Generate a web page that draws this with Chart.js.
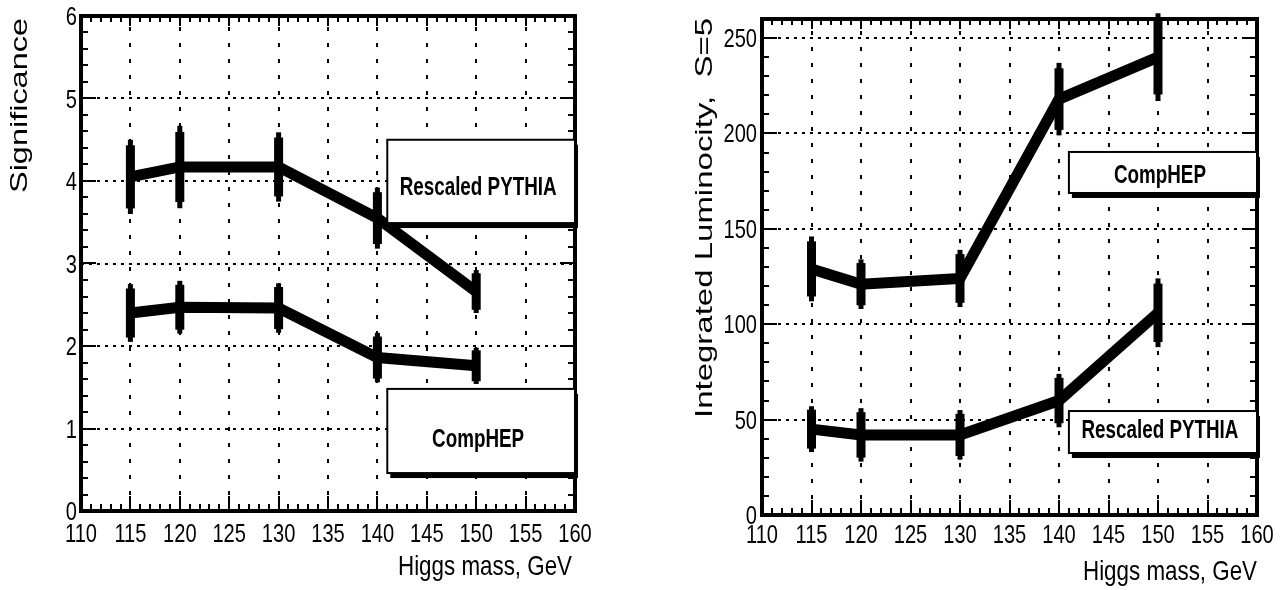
<!DOCTYPE html>
<html>
<head>
<meta charset="utf-8">
<script src="https://cdn.jsdelivr.net/npm/chart.js@4.4.1/dist/chart.umd.min.js"></script>
<style>
  html, body { margin: 0; padding: 0; background: #fff; }
  #wrap { position: relative; width: 1282px; height: 590px; }
  .panel { position: absolute; top: 0; width: 641px; height: 590px; }
</style>
</head>
<body>
<div id="wrap">
  <div class="panel" style="left:0"><canvas id="sig"></canvas></div>
  <div class="panel" style="left:641px"><canvas id="lumi"></canvas></div>
</div>
<script>
// Higgs masses (GeV)
const masses = [115, 120, 130, 140, 150];

// left panel: significance
const sigPythia = [4.05, 4.17, 4.17, 3.55, 2.66];
const sigPythiaErr = [0.45, 0.5, 0.42, 0.37, 0.26];
const sigCompHEP = [2.4, 2.47, 2.46, 1.86, 1.76];
const sigCompHEPErr = [0.35, 0.32, 0.3, 0.3, 0.22];

// right panel: integrated luminosity for S=5
const lumCompHEP = [129, 121, 124, 218, 240];
const lumCompHEPErr = [17, 13, 15, 19, 23];
const lumPythia = [45, 42, 42, 60, 106];
const lumPythiaErr = [12, 14, 13, 14, 18];

const SANS = '"Liberation Sans", Arial, sans-serif';

function pts(ys) {
  return masses.map((m, i) => ({ x: m, y: ys[i] }));
}

// the original uses a condensed Helvetica; squeeze Liberation Sans horizontally
function narrowText(ctx, text, x, y, font, align, squeeze) {
  ctx.save();
  ctx.translate(x, y);
  ctx.scale(squeeze, 1);
  ctx.font = font;
  ctx.textAlign = align;
  ctx.textBaseline = 'alphabetic';
  ctx.fillText(text, 0, 0);
  ctx.restore();
}

function squeezeFor(ctx, font, sample, width) {
  ctx.save();
  ctx.font = font;
  const w = ctx.measureText(sample).width;
  ctx.restore();
  return width / w;
}

function makeChart(canvasId, spec) {
  const decor = {
    id: 'decor',
    beforeDatasetsDraw(chart) {
      const { ctx, chartArea: a, scales: { x, y } } = chart;
      ctx.save();
      ctx.strokeStyle = '#000';
      ctx.lineWidth = 2;
      // dotted grid
      ctx.setLineDash([4, 12]);
      for (let v = spec.xMin + spec.xMajor; v < spec.xMax - 1e-9; v += spec.xMajor) {
        const px = Math.round(x.getPixelForValue(v));
        ctx.beginPath(); ctx.moveTo(px, a.bottom); ctx.lineTo(px, a.top); ctx.stroke();
      }
      ctx.setLineDash([3, 5]);
      for (let v = spec.yMajor; v < spec.yMax - 1e-9; v += spec.yMajor) {
        const py = Math.round(y.getPixelForValue(v));
        ctx.beginPath(); ctx.moveTo(a.left, py); ctx.lineTo(a.right, py); ctx.stroke();
      }
      ctx.restore();
    },
    afterDatasetsDraw(chart) {
      const { ctx, chartArea: a, scales: { x, y } } = chart;
      ctx.save();
      ctx.fillStyle = '#000';
      ctx.strokeStyle = '#000';

      // error bars: thin outer part, thick inner part
      chart.data.datasets.forEach(ds => {
        ds.errors.forEach((e, i) => {
          const p = ds.data[i];
          const px = x.getPixelForValue(p.x);
          const yt = y.getPixelForValue(p.y + e), yb = y.getPixelForValue(p.y - e);
          ctx.fillRect(px - 2.5, yt, 5, yb - yt);
          const kt = y.getPixelForValue(p.y + e * 0.85), kb = y.getPixelForValue(p.y - e * 0.85);
          ctx.fillRect(px - 4.5, kt, 9, kb - kt);
        });
      });

      // ticks
      ctx.lineWidth = 2;
      const isMajor = (v, step) => Math.abs(v / step - Math.round(v / step)) < 1e-6;
      for (let v = spec.xMin; v <= spec.xMax + 1e-9; v += spec.xMinor) {
        const px = Math.round(x.getPixelForValue(v));
        const maj = isMajor(v, spec.xMajor);
        ctx.beginPath();
        ctx.moveTo(px, a.bottom); ctx.lineTo(px, a.bottom - (maj ? 15 : 7));
        ctx.moveTo(px, a.top); ctx.lineTo(px, a.top + (maj ? 10 : 6));
        ctx.stroke();
      }
      for (let v = 0; v <= spec.yMax + 1e-9; v += spec.yMinor) {
        const py = Math.round(y.getPixelForValue(v));
        const maj = isMajor(v, spec.yMajor);
        ctx.beginPath();
        ctx.moveTo(a.left, py); ctx.lineTo(a.left + (maj ? 15 : 7), py);
        ctx.moveTo(a.right, py); ctx.lineTo(a.right - (maj ? 15 : 7), py);
        ctx.stroke();
      }

      // frame
      ctx.lineWidth = 4;
      ctx.strokeRect(a.left, a.top, a.right - a.left, a.bottom - a.top);

      // tick labels from the library's ticks
      ctx.fillStyle = '#000';
      const tickFont = '26px ' + SANS;
      const tq = squeezeFor(ctx, tickFont, '110', 32);
      x.ticks.forEach(t => {
        narrowText(ctx, String(t.value), x.getPixelForValue(t.value),
          a.bottom + spec.xLabelDrop, tickFont, 'center', tq);
      });
      y.ticks.forEach(t => {
        narrowText(ctx, String(t.value), a.left - spec.yTickPad,
          y.getPixelForValue(t.value) + 9, tickFont, 'right', tq);
      });

      // horizontal axis title
      const titleFont = '28px ' + SANS;
      narrowText(ctx, 'Higgs mass, GeV', a.right - spec.xTitleInset, spec.xTitleBase,
        titleFont, 'right', squeezeFor(ctx, titleFont, 'Higgs mass, GeV', 174));

      // labelled boxes with drop shadow
      const boxFont = 'bold 25px ' + SANS;
      const bq = squeezeFor(ctx, boxFont, 'Rescaled PYTHIA', 157);
      spec.boxes.forEach(b => {
        const l = x.getPixelForValue(b.x0), r = x.getPixelForValue(b.x1);
        const t = y.getPixelForValue(b.y0), bt = y.getPixelForValue(b.y1);
        ctx.fillStyle = '#000';
        ctx.fillRect(l + 3, t + 5, r - l, bt - t);
        ctx.fillStyle = '#fff';
        ctx.fillRect(l, t, r - l, bt - t);
        ctx.lineWidth = 2;
        ctx.strokeRect(l, t, r - l, bt - t);
        ctx.fillStyle = '#000';
        narrowText(ctx, b.text, (l + r) / 2 - 3, y.getPixelForValue(b.ty) + 9,
          boxFont, 'center', bq);
      });

      // vertical axis title, stretched like the original
      const tt = spec.yTitle;
      ctx.font = '24px ' + SANS;
      ctx.textAlign = 'left';
      ctx.textBaseline = 'alphabetic';
      const w = ctx.measureText(tt.text).width;
      ctx.translate(tt.baseX, tt.startY);
      ctx.rotate(-Math.PI / 2);
      ctx.scale(tt.length / w, 1);
      ctx.fillText(tt.text, 0, 0);
      ctx.restore();
    }
  };

  return new Chart(document.getElementById(canvasId), {
    type: 'line',
    data: {
      datasets: spec.series.map(s => ({
        label: s.label,
        data: pts(s.values),
        errors: s.errors,
        borderColor: '#000',
        backgroundColor: '#000',
        borderWidth: 11,
        pointRadius: 0,
        tension: 0,
        fill: false,
        clip: false
      }))
    },
    options: {
      responsive: true,
      maintainAspectRatio: false,
      animation: false,
      events: [],
      layout: { padding: { top: spec.padTop, right: spec.padRight, left: 0, bottom: 0 } },
      plugins: { legend: { display: false }, tooltip: { enabled: false } },
      scales: {
        x: {
          type: 'linear',
          min: spec.xMin,
          max: spec.xMax,
          grid: { display: false, drawTicks: false },
          border: { display: false },
          ticks: { display: false, stepSize: spec.xMajor, autoSkip: false },
          afterFit: s => { s.height = spec.xHeight; }
        },
        y: {
          type: 'linear',
          min: 0,
          max: spec.yMax,
          grid: { display: false, drawTicks: false },
          border: { display: false },
          ticks: { display: false, stepSize: spec.yMajor, includeBounds: false },
          afterFit: s => { s.width = spec.yWidth; }
        }
      }
    },
    plugins: [decor]
  });
}

makeChart('sig', {
  xMin: 110, xMax: 160, xMajor: 5, xMinor: 1,
  yMax: 6, yMajor: 1, yMinor: 0.2,
  padTop: 16, padRight: 66, yWidth: 81, xHeight: 79, yTickPad: 4,
  xLabelDrop: 31, xTitleBase: 575, xTitleInset: 3,
  series: [
    { label: 'Rescaled PYTHIA', values: sigPythia, errors: sigPythiaErr },
    { label: 'CompHEP', values: sigCompHEP, errors: sigCompHEPErr }
  ],
  boxes: [
    { text: 'Rescaled PYTHIA', x0: 141, x1: 160, y0: 4.5, y1: 3.49, ty: 3.94 },
    { text: 'CompHEP', x0: 141, x1: 160, y0: 1.48, y1: 0.46, ty: 0.89 }
  ],
  yTitle: { text: 'Significance', baseX: 27, startY: 193, length: 175 }
});

makeChart('lumi', {
  xMin: 110, xMax: 160, xMajor: 5, xMinor: 1,
  yMax: 260, yMajor: 50, yMinor: 10,
  padTop: 19, padRight: 25, yWidth: 121, xHeight: 75, yTickPad: 5,
  xLabelDrop: 28, xTitleBase: 580, xTitleInset: 0,
  series: [
    { label: 'CompHEP', values: lumCompHEP, errors: lumCompHEPErr },
    { label: 'Rescaled PYTHIA', values: lumPythia, errors: lumPythiaErr }
  ],
  boxes: [
    { text: 'CompHEP', x0: 141, x1: 160, y0: 190.3, y1: 168.8, ty: 178.7 },
    { text: 'Rescaled PYTHIA', x0: 141, x1: 160, y0: 54.5, y1: 32.5, ty: 45 }
  ],
  yTitle: { text: 'Integrated Luminocity,  S=5', baseX: 71, startY: 418, length: 400 }
});
</script>
</body>
</html>
